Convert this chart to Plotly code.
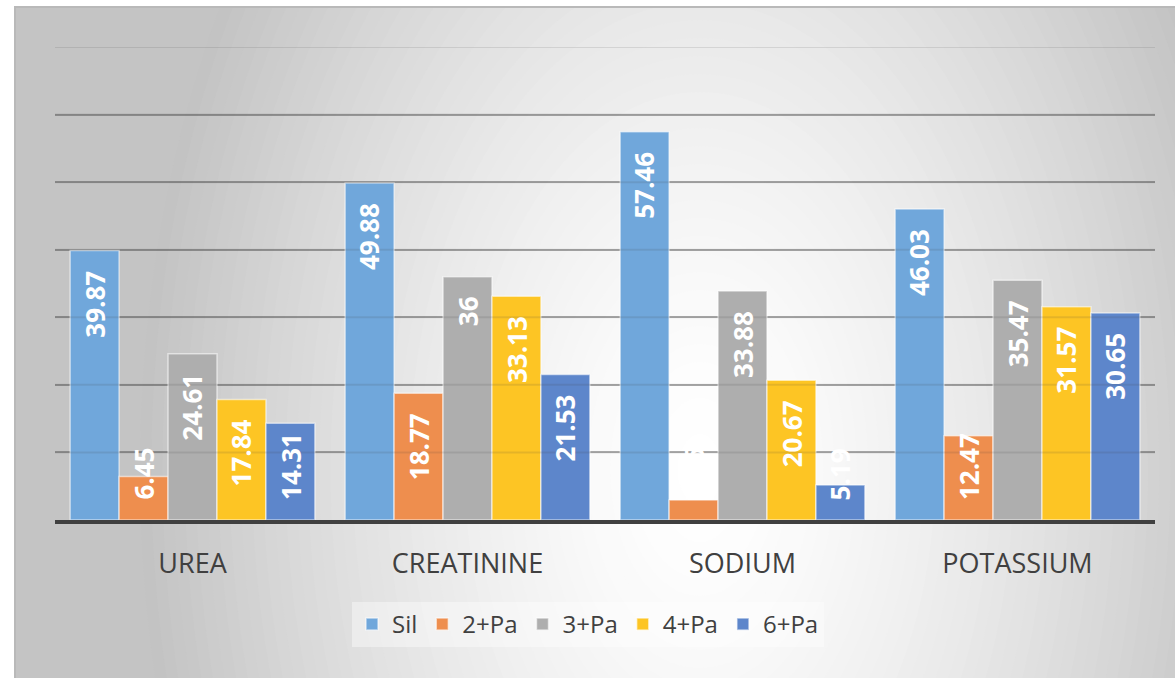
import plotly.graph_objects as go

categories = ["UREA", "CREATININE", "SODIUM", "POTASSIUM"]
series_names = ["Sil", "2+Pa", "3+Pa", "4+Pa", "6+Pa"]
sil = [39.87, 49.88, 57.46, 46.03]
pa2 = [6.45, 18.77, 2.96, 12.47]
pa3 = [24.61, 36, 33.88, 35.47]
pa4 = [17.84, 33.13, 20.67, 31.57]
pa6 = [14.31, 21.53, 5.19, 30.65]
series_values = [sil, pa2, pa3, pa4, pa6]
colors = ["#70A7DB", "#EE8E4E", "#AEAEAE", "#FDC524", "#5D86CB"]
y_ticks = [0, 10, 20, 30, 40, 50, 60, 70]

W, H = 1175, 678
L, R, T, B = 55, 20, 47, 158
PW, PH = W - L - R, H - T - B
BARGAP = 0.11
YMAX = 70
LABEL_SIZE = 26


def px(xp):
    return (xp - L) / PW


def py(yp):
    return (H - B - yp) / PH


fig = go.Figure()
for name, vals, col in zip(series_names, series_values, colors):
    fig.add_trace(go.Bar(
        name=name, x=categories, y=vals,
        marker=dict(color=col, line=dict(color="rgba(255,255,255,0.55)", width=1.5)),
        hoverinfo="x+y+name",
    ))

# data labels (white, rotated, "inside end" like Excel; pushed up when bar too short)
nser = len(series_names)
w = (1 - BARGAP) / nser
ppu = PH / YMAX
annotations = []
for si, vals in enumerate(series_values):
    for ci, v in enumerate(vals):
        txt = f"{v:g}"
        ndig = sum(ch.isdigit() for ch in txt)
        ndot = txt.count(".")
        est = LABEL_SIZE * (0.572 * ndig + 0.28 * ndot)
        xpos = ci + (si - (nser - 1) / 2) * w
        if v * ppu - 20 - est >= 20:
            ann = dict(x=xpos, y=v, yanchor="top", yshift=-18)
        else:
            ann = dict(x=xpos, y=0, yanchor="bottom", yshift=18)
        ann.update(xref="x", yref="y", text=txt, showarrow=False, textangle=-90,
                   xanchor="center",
                   font=dict(family="Open Sans", size=LABEL_SIZE, color="white", weight="bold"))
        annotations.append(ann)

# background: radial-ish gradient inside a framed rectangle
shapes = []
fx0, fy0 = 15, 7
shapes.append(dict(type="rect", xref="paper", yref="paper", layer="below",
                   x0=px(fx0), x1=px(W + 5), y0=py(fy0), y1=py(H + 5),
                   fillcolor="#c4c4c4", line=dict(width=0)))
cx, cy, rx, ry = 700, 470, 560, 900
N = 50
for k in range(N):
    r = 1 - k / N
    g = int(round(255 - 60 * r ** 1.5))
    shapes.append(dict(type="circle", xref="paper", yref="paper", layer="below",
                       x0=px(cx - rx * r), x1=px(cx + rx * r),
                       y0=py(cy + ry * r), y1=py(cy - ry * r),
                       fillcolor=f"rgb({g},{g},{g})", line=dict(width=0)))
# white outside the frame
shapes.append(dict(type="rect", xref="paper", yref="paper", layer="below",
                   x0=px(-5), x1=px(W + 5), y0=py(fy0), y1=py(-1200),
                   fillcolor="white", line=dict(width=0)))
shapes.append(dict(type="rect", xref="paper", yref="paper", layer="below",
                   x0=px(-5), x1=px(fx0), y0=py(H + 5), y1=py(-5),
                   fillcolor="white", line=dict(width=0)))
shapes.append(dict(type="rect", xref="paper", yref="paper", layer="below",
                   x0=px(fx0), x1=px(W + 10), y0=py(H + 10), y1=py(fy0),
                   fillcolor="rgba(0,0,0,0)", line=dict(color="#b9b9b9", width=2)))
# gridlines lightly visible through the bars
for t in y_ticks[1:]:
    shapes.append(dict(type="line", xref="paper", yref="y", layer="above",
                       x0=0, x1=1, y0=t, y1=t,
                       line=dict(color="rgba(60,60,60,0.13)", width=2)))

fig.update_layout(
    width=W, height=H,
    margin=dict(l=L, r=R, t=T, b=B),
    paper_bgcolor="white",
    plot_bgcolor="rgba(0,0,0,0)",
    barmode="group", bargap=BARGAP, bargroupgap=0,
    font=dict(family="Open Sans", color="#404040"),
    showlegend=True,
    legend=dict(orientation="h", x=px(588), xanchor="center", y=py(602), yanchor="top",
                bgcolor="rgba(255,255,255,0.4)", font=dict(size=24, color="#404040"),
                itemwidth=30, traceorder="normal"),
    shapes=shapes,
    annotations=annotations,
    xaxis=dict(showline=True, linecolor="#404040", linewidth=4, ticks="",
               tickfont=dict(size=27, color="#404040"), ticklabelstandoff=17,
               showgrid=False, fixedrange=True),
    yaxis=dict(range=[0, YMAX], tickvals=y_ticks, showticklabels=False,
               showgrid=True, gridcolor="rgba(70,70,70,0.42)", gridwidth=2,
               zeroline=False, showline=False, fixedrange=True),
)

fig.write_html("out.html")
